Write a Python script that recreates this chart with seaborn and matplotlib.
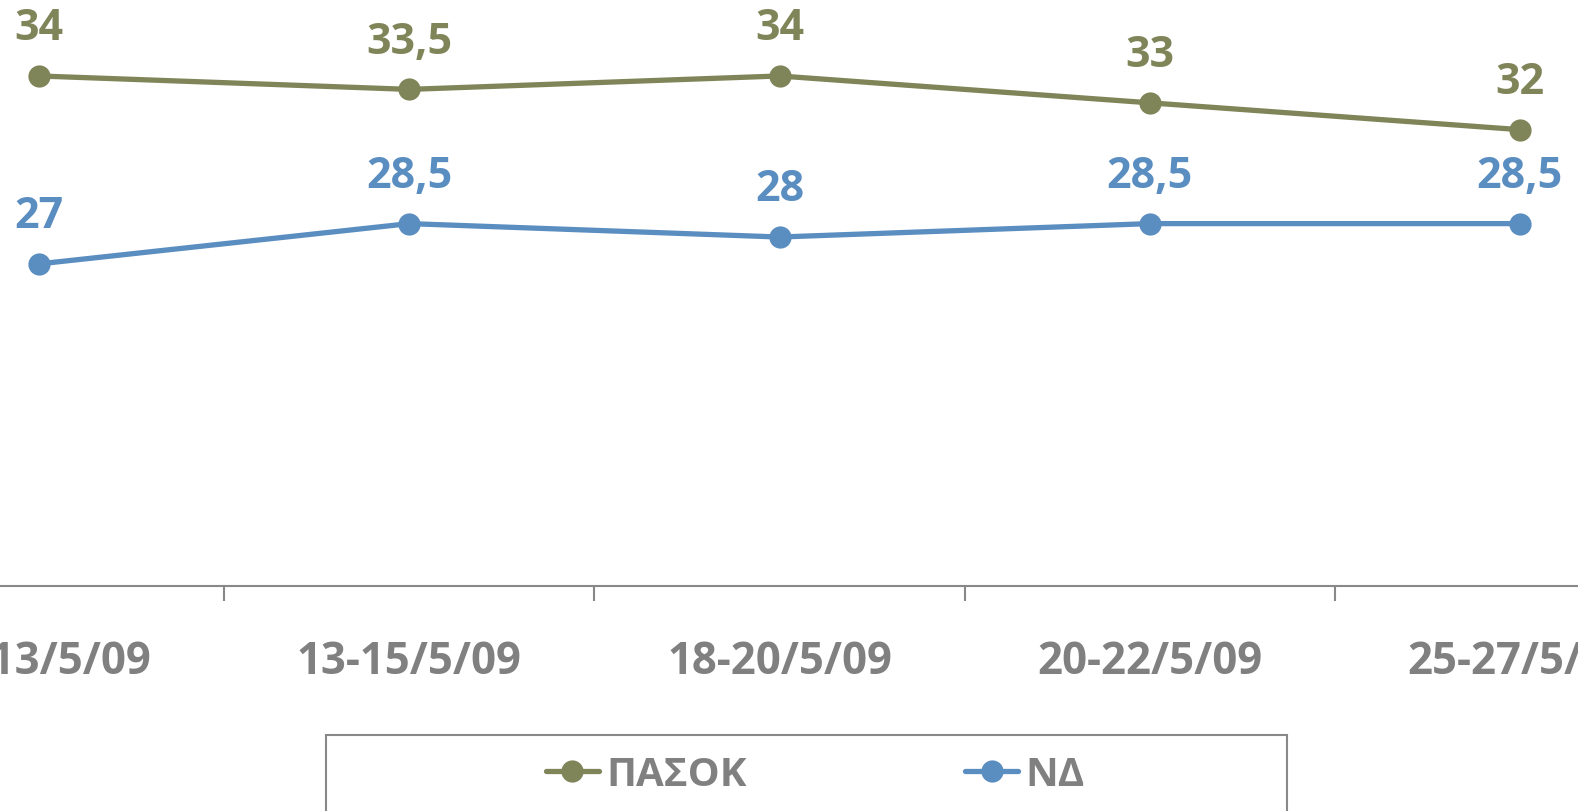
import pandas as pd
import matplotlib.pyplot as plt
import matplotlib.patches as mpatches
import seaborn as sns

# data
dates = ["11-13/5/09", "13-15/5/09", "18-20/5/09", "20-22/5/09", "25-27/5/09"]
pasok = [34, 33.5, 34, 33, 32]
nd = [27, 28.5, 28, 28.5, 28.5]
parties = ["ΠΑΣΟΚ", "ΝΔ"]
colors = {"ΠΑΣΟΚ": "#7F8558", "ΝΔ": "#5A8DC0"}

df = pd.DataFrame({
    "pos": list(range(len(dates))) * 2,
    "value": pasok + nd,
    "party": [parties[0]] * len(dates) + [parties[1]] * len(dates),
})

sns.set_style("white")
plt.rcParams['font.family'] = ['Open Sans', 'DejaVu Sans']
plt.rcParams['font.weight'] = 'bold'

W, H = 1578, 811
fig = plt.figure(figsize=(W / 100, H / 100), dpi=100)
# axes extend past the picture edges (the reference is a crop)
ax_left, ax_right = -146, 1705
ax_bottom = 586
ax = fig.add_axes([ax_left / W, (H - ax_bottom) / H, (ax_right - ax_left) / W, ax_bottom / H])

sns.lineplot(data=df, x="pos", y="value", hue="party", hue_order=parties,
             palette=colors, marker="o", markersize=16, markeredgewidth=0,
             linewidth=3.8, ax=ax, legend=False)

ax.set_xlim(-0.5, len(dates) - 0.5)
ax.set_ylim(15, 36.83)

# value labels
for party, vals in zip(parties, [pasok, nd]):
    for i, v in enumerate(vals):
        ax.annotate(f"{v:g}".replace(".", ","), (i, v), xytext=(0, 34),
                    textcoords="offset points", ha="center", va="center",
                    fontsize=31, fontweight="bold", color=colors[party],
                    annotation_clip=False)

# axes styling
for s in ["left", "right", "top"]:
    ax.spines[s].set_visible(False)
ax.spines["bottom"].set_color("#888888")
ax.spines["bottom"].set_linewidth(1.5)
ax.set_yticks([])
ax.set_xticks(range(len(dates)))
ax.set_xticklabels(dates, fontsize=31.5, fontweight="bold", color="#808080")
ax.set_xticks([i + 0.5 for i in range(len(dates) - 1)], minor=True)
ax.tick_params(axis="x", which="major", length=0, pad=39)
ax.tick_params(axis="x", which="minor", length=11, width=1.5, color="#888888",
               direction="out", bottom=True)
ax.set_xlabel("")
ax.set_ylabel("")

# legend
handles = [plt.Line2D([], [], color=colors[p], marker="o", markersize=16,
                      markeredgewidth=0, linewidth=3.8) for p in parties]
leg = fig.legend(handles, parties, loc="center left",
                 bbox_to_anchor=(526 / W, 1 - 775 / H), ncol=2, frameon=False,
                 borderpad=0, handlelength=1.3, handletextpad=0.2,
                 columnspacing=5.42, prop={"size": 29, "weight": "bold"})
for t in leg.get_texts():
    t.set_color("#808080")

# legend box (runs off the bottom of the crop)
box = mpatches.Rectangle((326 / W, -0.05), (1287 - 326) / W, (H - 735) / H + 0.05,
                         transform=fig.transFigure, fill=False,
                         edgecolor="#888888", linewidth=1.5, clip_on=False)
fig.patches.append(box)

fig.savefig("out.png", dpi=100)
